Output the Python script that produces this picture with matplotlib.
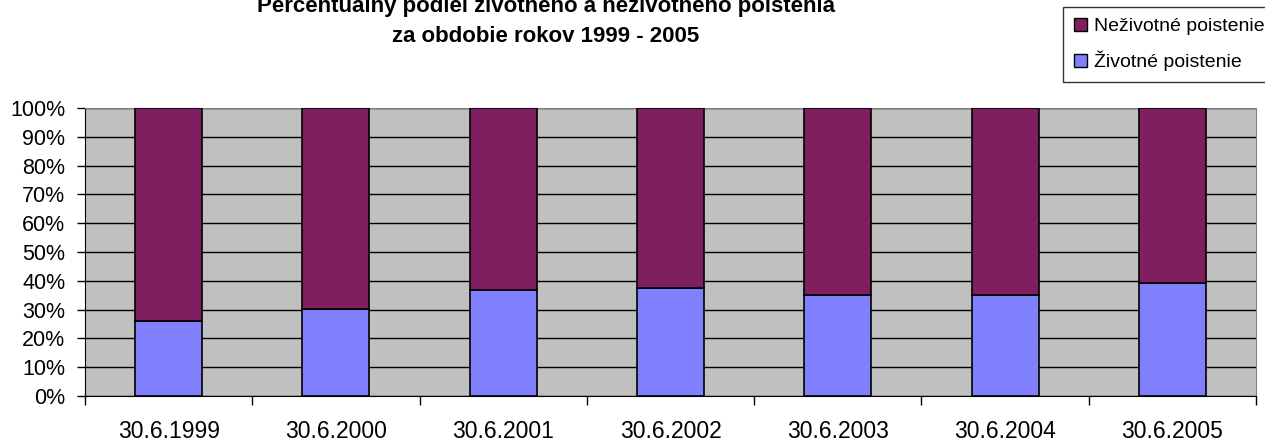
import matplotlib.pyplot as plt
import numpy as np
from matplotlib import font_manager
from matplotlib.patches import Patch
from matplotlib.ticker import FixedLocator, PercentFormatter

plt.rcParams['font.family'] = ['Liberation Sans', 'DejaVu Sans']

dates = ['30.6.1999', '30.6.2000', '30.6.2001', '30.6.2002',
         '30.6.2003', '30.6.2004', '30.6.2005']
zivotne = [26.1, 30.1, 36.8, 37.4, 35.2, 35.2, 39.1]
nezivotne = [100 - v for v in zivotne]

col_ziv = '#8080ff'
col_neziv = '#7f1f5f'

# the title in the original looks condensed -> narrow font if we have it
installed = {f.name for f in font_manager.fontManager.ttflist}
if 'Liberation Sans Narrow' in installed:
    title_font, title_size = 'Liberation Sans Narrow', 18
else:
    title_font, title_size = 'Liberation Sans', 16

fig = plt.figure(figsize=(12.65, 4.43), dpi=100)
ax = fig.add_axes([0.0672, 0.1061, 0.9929 - 0.0672, 0.7562 - 0.1061])
ax.set_facecolor('#c0c0c0')

x = np.arange(len(dates))
w = 0.4
ax.bar(x, zivotne, w, color=col_ziv, edgecolor='black', linewidth=1.2, zorder=3)
ax.bar(x, nezivotne, w, bottom=zivotne, color=col_neziv, edgecolor='black',
       linewidth=1.2, zorder=3)

ax.set_xlim(-0.5, len(dates) - 0.5)
ax.set_ylim(0, 100)
ax.set_yticks(np.arange(0, 101, 10))
ax.yaxis.set_major_formatter(PercentFormatter(decimals=0))
ax.grid(True, axis='y', color='black', linewidth=1, zorder=1)

ax.set_xticks(x)
ax.set_xticklabels(dates)
ax.xaxis.set_minor_locator(FixedLocator(np.arange(-0.5, len(dates), 1.0)))
ax.tick_params(axis='x', which='major', length=0, pad=17, labelsize=16.5)
ax.tick_params(axis='x', which='minor', length=6.5, width=1, direction='out')
ax.tick_params(axis='y', length=5.8, width=1, direction='out', pad=8.5, labelsize=15.5)

for s in ['top', 'right']:
    ax.spines[s].set_color('#808080')
for s in ['left', 'bottom']:
    ax.spines[s].set_color('black')

fig.text(0.4316, 1 - 12 / 443, 'Percentuálny podiel životného a neživotného poistenia',
         ha='center', va='baseline', fontsize=title_size, fontweight='bold',
         family=[title_font, 'DejaVu Sans'])
fig.text(0.4316, 1 - 42 / 443, 'za obdobie rokov 1999 - 2005',
         ha='center', va='baseline', fontsize=title_size, fontweight='bold',
         family=[title_font, 'DejaVu Sans'])

handles = [Patch(facecolor=col_neziv, edgecolor='black', label='Neživotné poistenie'),
           Patch(facecolor=col_ziv, edgecolor='black', label='Životné poistenie')]
leg = fig.legend(handles=handles, loc='upper left', bbox_to_anchor=(0.8403, 1 - 7 / 443),
                 fontsize=14, frameon=True, fancybox=False, edgecolor='black',
                 handlelength=0.67, handleheight=0.67, handletextpad=0.36,
                 borderpad=0.55, labelspacing=0.8, borderaxespad=0)
leg.get_frame().set_linewidth(1)

fig.savefig('out.png', dpi=100)
